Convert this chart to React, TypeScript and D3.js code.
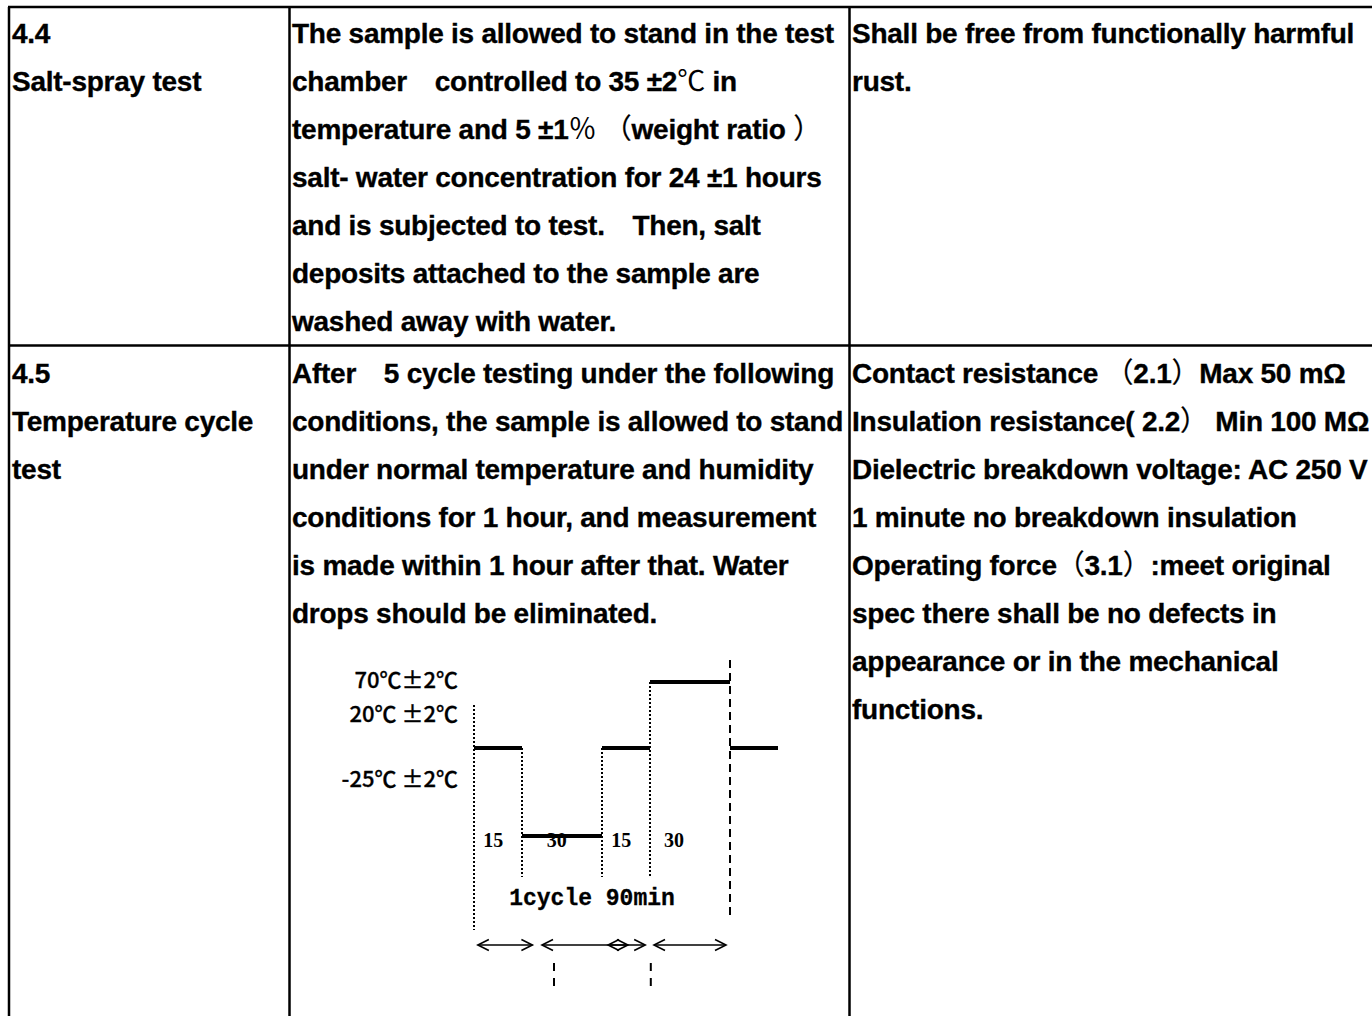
import React from "react";
import * as d3 from "d3";

// ---------- table text ----------
const row1Label = ["4.4", "Salt-spray test"];
const row1Method = [
  "The sample is allowed to stand in the test",
  "chamber\u3000controlled to 35 ±2℃ in",
  "temperature and 5 ±1％ （weight ratio ）",
  "salt- water concentration for 24 ±1 hours",
  "and is subjected to test.\u3000Then, salt",
  "deposits attached to the sample are",
  "washed away with water.",
];
const row1Req = ["Shall be free from functionally harmful", "rust."];

const row2Label = ["4.5", "Temperature cycle", "test"];
const row2Method = [
  "After\u30005 cycle testing under the following",
  "conditions, the sample is allowed to stand",
  "under normal temperature and humidity",
  "conditions for 1 hour, and measurement",
  "is made within 1 hour after that. Water",
  "drops should be eliminated.",
];
const row2Req = [
  "Contact resistance （2.1）Max 50 mΩ",
  "Insulation resistance( 2.2） Min 100 MΩ",
  "Dielectric breakdown voltage: AC 250 V",
  "1 minute no breakdown insulation",
  "Operating force（3.1）:meet original",
  "spec there shall be no defects in",
  "appearance or in the mechanical",
  "functions.",
];

// ---------- temperature cycle diagram data ----------
const phaseTemps = [20, -25, 20, 70, 20];
const phaseMinutes = [15, 30, 15, 30, 15];
const durationLabels = ["15", "30", "15", "30"];
const tempLevels = [70, 20, -25];
const tempLabels = ["70℃±2℃", "20℃ ±2℃", "-25℃ ±2℃"];
const cycleLabel = "1cycle 90min";

// ---------- layout ----------
const W = 1372;
const H = 1016;
const colX = [9, 289.5, 849.5];
const topY = 7;
const rowSepY = 345.5;
const textX = [12, 292, 852];
const row1Base = 43;
const row2Base = 383;
const lineH = 48;

const mainFont = "'Liberation Sans', Arial, 'Noto Sans CJK JP', sans-serif";
const cjkFont = "'Noto Sans CJK JP', 'Noto Sans CJK SC', sans-serif";

function renderParts(t: string) {
  return t.split(/([℃％（）])/).map((p, i) =>
    /^[℃％]$/.test(p) ? (
      <tspan key={i} fontFamily={cjkFont} fontWeight="normal" strokeWidth={0}>
        {p}
      </tspan>
    ) : /^[（）]$/.test(p) ? (
      <tspan key={i} fontFamily={cjkFont} fontWeight="normal" strokeWidth={0.2}>
        {p}
      </tspan>
    ) : (
      <tspan key={i}>{p}</tspan>
    )
  );
}

function Lines({ lines, x, y0 }: { lines: string[]; x: number; y0: number }) {
  return (
    <>
      {lines.map((t, i) => (
        <text
          key={i}
          x={x}
          y={y0 + i * lineH}
          fontFamily={mainFont}
          fontWeight="bold"
          fontSize={28}
          letterSpacing={-0.25}
          fill="#000"
          stroke="#000"
          strokeWidth={0.35}
          style={{ whiteSpace: "pre" }}
        >
          {renderParts(t)}
        </text>
      ))}
    </>
  );
}

function Diagram() {
  const cum = [0];
  phaseMinutes.forEach((m) => cum.push(cum[cum.length - 1] + m));
  // piecewise time scale (short phases are drawn 48px, long ones 80px)
  const x = d3.scaleLinear().domain(cum).range([474, 522, 602, 650, 730, 778]);
  const y = d3.scaleLinear().domain([-25, 20, 70]).range([836, 748, 682]);

  const innerBottom = 877;
  const labelMinutes = [6, 28, 51, 69];
  const labelY = [688, 722, 787];
  const arrowY = 945;
  const arrows: [number, number][] = [
    [1.2, 18.9],
    [22.5, 53.1],
    [46.9, 58.5],
    [61.5, 88.5],
  ];
  const head = 11;
  const hh = 5.5;

  return (
    <g>
      {tempLabels.map((t, i) => (
        <text
          key={t}
          x={458}
          y={labelY[i]}
          textAnchor="end"
          fontFamily={cjkFont}
          fontWeight={500}
          fontSize={22}
          fill="#000"
          stroke="#000"
          strokeWidth={0.3}
          data-level={tempLevels[i]}
          style={{ whiteSpace: "pre" }}
        >
          {t}
        </text>
      ))}
      {durationLabels.map((t, i) => (
        <text
          key={i}
          x={x(labelMinutes[i])}
          y={847}
          textAnchor="middle"
          fontFamily="'Liberation Serif', 'Times New Roman', serif"
          fontWeight="bold"
          fontSize={20}
          fill="#000"
        >
          {t}
        </text>
      ))}
      {/* start boundary */}
      <line x1={x(0)} x2={x(0)} y1={705} y2={930} stroke="#000" strokeWidth={2} strokeDasharray="2,2" />
      {/* inner boundaries */}
      {cum.slice(1, 4).map((t, i) => (
        <line
          key={i}
          x1={x(t)}
          x2={x(t)}
          y1={y(Math.max(phaseTemps[i], phaseTemps[i + 1]))}
          y2={innerBottom}
          stroke="#000"
          strokeWidth={2}
          strokeDasharray="2,2"
        />
      ))}
      {/* end of cycle */}
      <line x1={x(cum[4])} x2={x(cum[4])} y1={660} y2={920} stroke="#000" strokeWidth={2} strokeDasharray="8,5" />
      {phaseTemps.map((temp, i) => (
        <line
          key={i}
          x1={x(cum[i])}
          x2={x(cum[i + 1])}
          y1={y(temp)}
          y2={y(temp)}
          stroke="#000"
          strokeWidth={4}
        />
      ))}
      <text
        x={592}
        y={905}
        textAnchor="middle"
        fontFamily="'Liberation Mono', 'Courier New', monospace"
        fontWeight="bold"
        fontSize={23}
        fill="#000"
        stroke="#000"
        strokeWidth={0.3}
      >
        {cycleLabel}
      </text>
      {arrows.map(([a, b], i) => {
        const xa = x(a);
        const xb = x(b);
        return (
          <g key={i} stroke="#000" strokeWidth={1.6} fill="none">
            <line x1={xa} x2={xb} y1={arrowY} y2={arrowY} />
            <path d={`M${xa + head},${arrowY - hh} L${xa},${arrowY} L${xa + head},${arrowY + hh}`} />
            <path d={`M${xb - head},${arrowY - hh} L${xb},${arrowY} L${xb - head},${arrowY + hh}`} />
          </g>
        );
      })}
      {[27, 60.3].map((t, i) => (
        <line key={i} x1={x(t)} x2={x(t)} y1={963} y2={988} stroke="#000" strokeWidth={2} strokeDasharray="8,7" />
      ))}
    </g>
  );
}

export default function App() {
  return (
    <svg
      width={W}
      height={H}
      viewBox={`0 0 ${W} ${H}`}
      style={{ position: "absolute", left: 0, top: 0, background: "#fff" }}
    >
      <rect x={0} y={0} width={W} height={H} fill="#fff" />
      {/* grid */}
      <g stroke="#000" strokeWidth={2.5}>
        <line x1={colX[0] - 1} x2={W + 2} y1={topY} y2={topY} />
        <line x1={colX[0]} x2={W + 2} y1={rowSepY} y2={rowSepY} />
        {colX.map((cx, i) => (
          <line key={i} x1={cx} x2={cx} y1={topY} y2={H + 2} />
        ))}
      </g>
      <Lines lines={row1Label} x={textX[0]} y0={row1Base} />
      <Lines lines={row1Method} x={textX[1]} y0={row1Base} />
      <Lines lines={row1Req} x={textX[2]} y0={row1Base} />
      <Lines lines={row2Label} x={textX[0]} y0={row2Base} />
      <Lines lines={row2Method} x={textX[1]} y0={row2Base} />
      <Lines lines={row2Req} x={textX[2]} y0={row2Base} />
      <Diagram />
    </svg>
  );
}
